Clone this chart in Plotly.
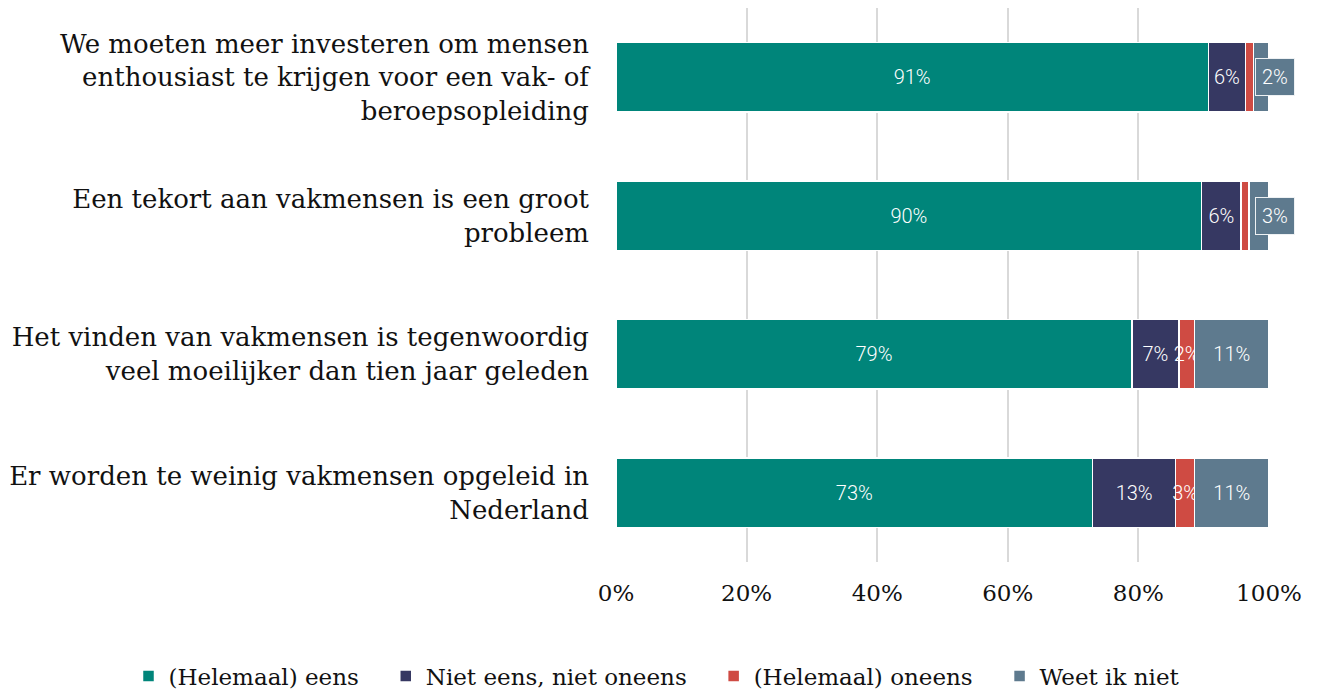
import plotly.graph_objects as go

categories = [
    "We moeten meer investeren om mensen<br>enthousiast te krijgen voor een vak- of<br>beroepsopleiding",
    "Een tekort aan vakmensen is een groot<br>probleem",
    "Het vinden van vakmensen is tegenwoordig<br>veel moeilijker dan tien jaar geleden",
    "Er worden te weinig vakmensen opgeleid in<br>Nederland",
]
series_names = ["(Helemaal) eens", "Niet eens, niet oneens", "(Helemaal) oneens", "Weet ik niet"]
eens = [90.7, 89.7, 79.0, 73.0]
neutraal = [5.7, 6.0, 7.2, 12.7]
oneens = [1.2, 1.2, 2.4, 2.9]
weet_niet = [2.4, 3.1, 11.4, 11.4]
colors = ["#00857A", "#363862", "#CF4B43", "#5E7A8E"]
tick_vals = [0, 20, 40, 60, 80, 100]
tick_text = ["0%", "20%", "40%", "60%", "80%", "100%"]

series = [eens, neutraal, oneens, weet_niet]
SERIF = "DejaVu Serif"
SANS = "Roboto"
PAD = "\u00a0" * 3  # extra spacing between legend entries

fig = go.Figure()
for i, (name, vals, col) in enumerate(zip(series_names, series, colors)):
    if i == 3:
        # small values shown as callouts instead of inside labels
        texts = [f"{round(v)}%" if v >= 5 else "" for v in vals]
    else:
        texts = [f"{round(v)}%" if v >= 2 else "" for v in vals]
    fig.add_trace(go.Bar(
        y=categories, x=vals, name=name + (PAD if i < 3 else ""), orientation="h",
        marker=dict(color=col, line=dict(color="white", width=1.5)),
        text=texts, textposition="inside", insidetextanchor="middle",
        textangle=0, constraintext="none", cliponaxis=False,
        textfont=dict(family=SANS, size=20, color="white", weight=300),
        hoverinfo="skip",
    ))

# callouts for the small "Weet ik niet" values
for cat, a, b, c, d in zip(categories, eens, neutraal, oneens, weet_niet):
    if d < 5:
        fig.add_annotation(
            x=min(round(a + b + c + d, 6), 100), y=cat, xref="x", yref="y",
            text=f"{round(d)}%", showarrow=False, xanchor="center", xshift=6,
            font=dict(family=SANS, size=20, color="white", weight=300),
            bgcolor="#5E7A8E", bordercolor="#eef1f3", borderwidth=1, borderpad=6,
        )

fig.update_layout(
    width=1327, height=691,
    barmode="stack", bargap=0.5,
    plot_bgcolor="white", paper_bgcolor="white",
    margin=dict(l=616, r=58, t=8, b=129, autoexpand=False),
    font=dict(family=SERIF, size=24, color="#111111"),
    xaxis=dict(range=[0, 100.001], tickvals=tick_vals, ticktext=tick_text,
               showgrid=True, gridcolor="#d9d9d9", gridwidth=2,
               zeroline=False, showline=False, ticks="", automargin=False,
               tickfont=dict(family=SERIF, size=23, color="#111111"), ticklabelstandoff=15),
    yaxis=dict(autorange="reversed", showgrid=False, zeroline=False, ticks="", automargin=False,
               tickfont=dict(family=SERIF, size=26, color="#111111"), ticklabelstandoff=26),
    legend=dict(orientation="h", x=(130 - 616) / 651, xanchor="left", xref="paper",
                y=-(676 - 562) / 554, yanchor="middle", yref="paper",
                font=dict(family=SERIF, size=23, color="#111111"),
                itemwidth=30, traceorder="normal"),
    showlegend=True,
)

fig.write_html("out.html", config={"displayModeBar": False},
               post_script="document.body.style.margin='0';document.body.style.overflow='hidden';")
